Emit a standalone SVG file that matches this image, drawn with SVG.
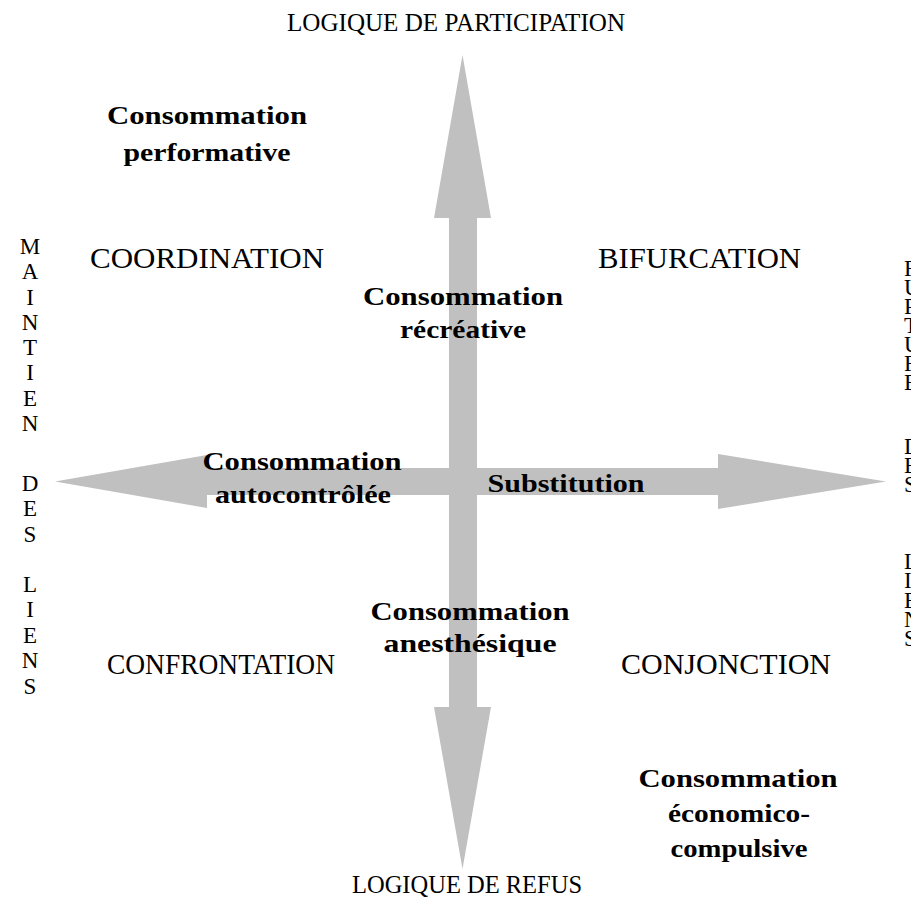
<svg xmlns="http://www.w3.org/2000/svg" width="911" height="904" viewBox="0 0 911 904">
<style>
.b{font-family:"Liberation Serif","Times New Roman",serif;font-weight:bold;font-size:25px;fill:#000;text-anchor:middle}
.r{font-family:"Liberation Serif","Times New Roman",serif;font-size:30px;fill:#000;text-anchor:middle}
.t{font-family:"Liberation Serif","Times New Roman",serif;font-size:24.5px;fill:#000;text-anchor:middle}
.v{font-family:"Liberation Serif","Times New Roman",serif;font-size:23px;fill:#000}
.vl text{text-anchor:middle}
.arrow{fill:#c0c0c0}
</style>
<rect width="911" height="904" fill="#fff"/>
<g id="connectors">
<polygon class="arrow" points="462.5,55 491,218 477,218 477,707 491,707 462.5,869 434,707 449,707 449,218 434,218"/>
<polygon class="arrow" points="55,481.5 207,455 207,468 718,468 718,454 886,481.5 718,509 718,495 207,495 207,508"/>
</g>
<g id="axis-top"><text class="t" x="456" y="31" textLength="338" lengthAdjust="spacingAndGlyphs">LOGIQUE DE PARTICIPATION</text></g>
<g id="axis-bottom"><text class="t" x="467" y="893">LOGIQUE DE REFUS</text></g>
<g id="axis-left" class="v vl">
<text x="30" y="254">M</text>
<text x="30" y="279">A</text>
<text x="30" y="305">I</text>
<text x="30" y="330">N</text>
<text x="30" y="355">T</text>
<text x="30" y="380">I</text>
<text x="30" y="406">E</text>
<text x="30" y="431">N</text>
<text x="30" y="491">D</text>
<text x="30" y="516">E</text>
<text x="30" y="542">S</text>
<text x="30" y="592">L</text>
<text x="30" y="617">I</text>
<text x="30" y="643">E</text>
<text x="30" y="668">N</text>
<text x="30" y="694">S</text>
</g>
<g id="axis-right" class="v">
<text x="904" y="276">R</text>
<text x="904" y="295">U</text>
<text x="904" y="314">P</text>
<text x="904" y="333">T</text>
<text x="904" y="352">U</text>
<text x="904" y="371">R</text>
<text x="904" y="390">E</text>
<text x="904" y="454">D</text>
<text x="904" y="473">E</text>
<text x="904" y="492">S</text>
<text x="904" y="569">L</text>
<text x="904" y="588">I</text>
<text x="904" y="608">E</text>
<text x="904" y="627">N</text>
<text x="904" y="646">S</text>
</g>
<g id="q-coordination"><text class="r" x="207" y="268" textLength="234" lengthAdjust="spacingAndGlyphs">COORDINATION</text></g>
<g id="q-bifurcation"><text class="r" x="699.5" y="268" textLength="203" lengthAdjust="spacingAndGlyphs">BIFURCATION</text></g>
<g id="q-confrontation"><text class="r" x="221" y="674" textLength="228" lengthAdjust="spacingAndGlyphs">CONFRONTATION</text></g>
<g id="q-conjonction"><text class="r" x="726" y="674" textLength="210" lengthAdjust="spacingAndGlyphs">CONJONCTION</text></g>
<g id="c-performative">
<text class="b" x="207" y="124" textLength="200" lengthAdjust="spacingAndGlyphs">Consommation</text>
<text class="b" x="207" y="161" textLength="167" lengthAdjust="spacingAndGlyphs">performative</text>
</g>
<g id="c-recreative">
<text class="b" x="463" y="305" textLength="200" lengthAdjust="spacingAndGlyphs">Consommation</text>
<text class="b" x="463" y="338" textLength="126" lengthAdjust="spacingAndGlyphs">récréative</text>
</g>
<g id="c-autocontrolee">
<text class="b" x="302" y="470" textLength="199" lengthAdjust="spacingAndGlyphs">Consommation</text>
<text class="b" x="303" y="503" textLength="176" lengthAdjust="spacingAndGlyphs">autocontrôlée</text>
</g>
<g id="c-substitution">
<text class="b" x="566" y="492" textLength="157" lengthAdjust="spacingAndGlyphs">Substitution</text>
</g>
<g id="c-anesthesique">
<text class="b" x="470" y="620" textLength="199" lengthAdjust="spacingAndGlyphs">Consommation</text>
<text class="b" x="470" y="652" textLength="173" lengthAdjust="spacingAndGlyphs">anesthésique</text>
</g>
<g id="c-economico">
<text class="b" x="738" y="787" textLength="199" lengthAdjust="spacingAndGlyphs">Consommation</text>
<text class="b" x="739" y="822" textLength="142" lengthAdjust="spacingAndGlyphs">économico-</text>
<text class="b" x="739" y="857" textLength="137" lengthAdjust="spacingAndGlyphs">compulsive</text>
</g>
</svg>
